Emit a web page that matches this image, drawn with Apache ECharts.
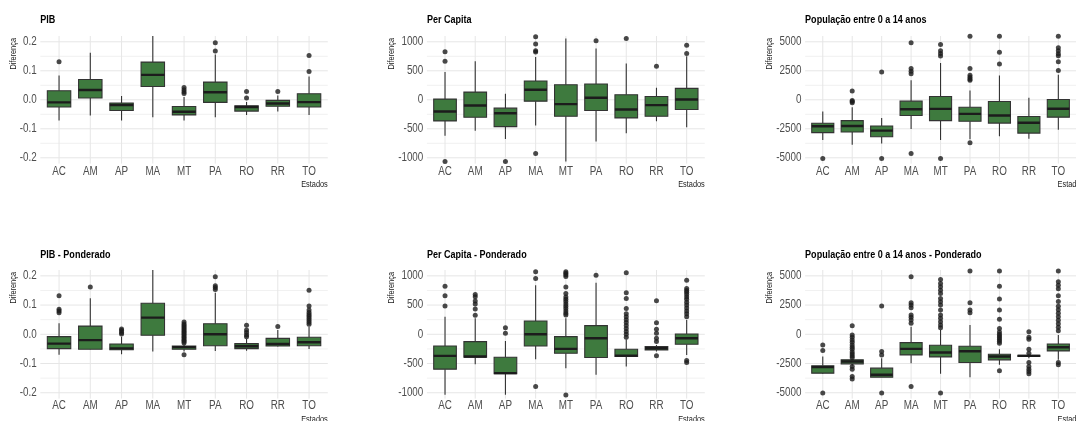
<!DOCTYPE html>
<html>
<head>
<meta charset="utf-8">
<title>Diferença por Estado</title>
<script src="https://cdn.jsdelivr.net/npm/echarts@6/dist/echarts.min.js"></script>
<style>
  html, body { margin: 0; padding: 0; background: #ffffff; }
  #chart { width: 1076px; height: 421px; }
</style>
</head>
<body>
<div id="chart"></div>
<script>
// Categories on the horizontal axis
const states = ['AC', 'AM', 'AP', 'MA', 'MT', 'PA', 'RO', 'RR', 'TO'];

// Each box: [lower whisker, Q1, median, Q3, upper whisker], one per state
const pibBoxes = [
  [-0.071, -0.025, -0.009, 0.031, 0.084],
  [-0.054, 0.006, 0.034, 0.070, 0.162],
  [-0.071, -0.037, -0.018, -0.011, 0.013],
  [-0.060, 0.046, 0.086, 0.130, 0.250],
  [-0.071, -0.052, -0.041, -0.023, 0.010],
  [-0.060, -0.009, 0.026, 0.061, 0.156],
  [-0.052, -0.039, -0.025, -0.021, -0.008],
  [-0.040, -0.022, -0.013, -0.002, 0.015],
  [-0.052, -0.025, -0.008, 0.021, 0.080]
];
const pibOutliers = [
  [0.131], [], [], [], [0.022, 0.028, 0.035, 0.042], [0.168, 0.197], [0.006, 0.029], [0.029], [0.098, 0.153]
];

const perCapitaBoxes = [
  [-618, -364, -202, 12, 480],
  [-532, -300, -98, 133, 665],
  [-676, -462, -231, -144, 104],
  [-445, -23, 173, 324, 740],
  [-1063, -283, -75, 260, 1058],
  [-717, -185, 35, 272, 884],
  [-578, -312, -168, 87, 624],
  [-370, -283, -92, 58, 208],
  [-474, -168, 6, 197, 751]
];
const perCapitaOutliers = [
  [665, 827, -1063], [], [-1063], [825, 845, 960, 1085, -925], [], [1017], [1058], [578], [798, 942]
];

const popBoxes = [
  [-3468, -2832, -2283, -2023, -1012],
  [-3873, -2774, -2254, -1792, -636],
  [-3757, -3179, -2659, -2254, -1561],
  [-2514, -1358, -809, -116, 1676],
  [-3468, -1792, -780, 289, 3179],
  [-3400, -1850, -1214, -636, 809],
  [-3153, -2010, -1349, -146, 2087],
  [-3350, -2869, -1976, -1435, 172],
  [-2577, -1495, -773, 26, 2150]
];
const popOutliers = [
  [-5050], [751, -58, -150, -260], [2399, -5050], [4913, 2688, 2457, 2254, -4624],
  [4769, 4219, 3988, 3786, -5050], [5480, 2688, 2110, 1950, 1800, 1676, -3700],
  [5480, 4089, 3092], [], [5480, 4493, 4235, 3977, 3805, 3290, 2517]
];

const pibWeightedBoxes = [
  [-0.070, -0.049, -0.032, -0.008, 0.0375],
  [-0.052, -0.051, -0.020, 0.028, 0.123],
  [-0.068, -0.053, -0.048, -0.033, -0.008],
  [-0.059, -0.003, 0.057, 0.106, 0.250],
  [-0.059, -0.051, -0.044, -0.040, -0.035],
  [-0.057, -0.039, 0.000, 0.036, 0.142],
  [-0.056, -0.049, -0.041, -0.032, -0.016],
  [-0.042, -0.040, -0.033, -0.014, 0.015],
  [-0.050, -0.039, -0.027, -0.010, 0.026]
];
const pibWeightedOutliers = [
  [0.074, 0.080, 0.086, 0.132],
  [0.162],
  [0.001, 0.006, 0.013, 0.018],
  [],
  [-0.030, -0.025, -0.020, -0.015, -0.010, -0.005, 0.000, 0.005, 0.010, 0.015, 0.020, 0.025, 0.030, 0.035, 0.042, -0.070],
  [0.153, 0.160, 0.166, 0.197],
  [-0.008, -0.002, 0.006, 0.015, 0.031],
  [0.027],
  [0.034, 0.041, 0.048, 0.055, 0.062, 0.068, 0.075, 0.083, 0.097, 0.151]
];

const perCapitaWeightedBoxes = [
  [-1034, -596, -369, -199, 301],
  [-511, -392, -381, -125, 273],
  [-1034, -676, -665, -392, -114],
  [-426, -199, 0, 227, 841],
  [-579, -324, -250, -40, 273],
  [-693, -398, -68, 148, 880],
  [-551, -381, -364, -256, -90],
  [-295, -267, -239, -210, -182],
  [-352, -170, -68, 6, 244]
];
const perCapitaWeightedOutliers = [
  [483, 659, 824],
  [324, 432, 517, 568, 642, 682],
  [17, 114],
  [954, 1068, -892],
  [330, 360, 400, 440, 480, 520, 560, 600, 640, 700, 810, 990, 1020, 1045, 1068, -1040],
  [1011],
  [-50, 0, 50, 100, 150, 200, 250, 300, 350, 443, 613, 710, 1051],
  [-369, -125, -68, 17, 85, 199, 574],
  [300, 350, 400, 450, 500, 550, 600, 640, 680, 720, 750, 784, 926, -449, -483]
];

const popWeightedBoxes = [
  [-3400, -3323, -2812, -2698, -1903],
  [-2698, -2528, -2329, -2187, -2130],
  [-3664, -3664, -3465, -2897, -2045],
  [-2471, -1761, -1250, -710, 653],
  [-3380, -1931, -1562, -937, 369],
  [-3664, -2414, -1448, -1022, 795],
  [-2613, -2187, -1903, -1704, -1278],
  [-2045, -1903, -1846, -1789, -1676],
  [-2187, -1420, -1108, -824, -57]
];
const popWeightedOutliers = [
  [-909, -1392, -5027],
  [738, -57, -256, -483, -682, -909, -1108, -1278, -1505, -1676, -1850, -2000, -2755, -2982, -3607, -3834],
  [2414, -1477, -1761, -5027],
  [937, 1221, 1448, 1647, 2272, 2499, 2698, 4913, -4459],
  [568, 795, 1079, 1363, 1647, 2073, 2499, 2783, 3067, 3493, 3777, 4061, 4345, 4686, -5027],
  [1846, 2073, 2698, 5424],
  [-770, -600, -450, -300, -150, 0, 200, 500, 1278, 2073, 3010, 4118, 5424, -3124],
  [227, -256, -426, -1278, -1619, -2414, -2755, -2982, -3181, -3380],
  [300, 600, 900, 1200, 1500, 1800, 2100, 2400, 2800, 3300, 3900, 4200, 4487, 5424, -2414, -2613]
];

// Tick labels and visible range of each value axis
const pibTicks = [-0.2, -0.1, 0, 0.1, 0.2];
const perCapitaTicks = [-1000, -500, 0, 500, 1000];
const popTicks = [-5000, -2500, 0, 2500, 5000];
const pibLimits = [-0.22, 0.22];
const perCapitaLimits = [-1100, 1100];
const popLimits = [-5500, 5500];

const panels = [
  { title: 'PIB', boxes: pibBoxes, outliers: pibOutliers, ticks: pibTicks, limits: pibLimits, digits: 1 },
  { title: 'Per Capita', boxes: perCapitaBoxes, outliers: perCapitaOutliers, ticks: perCapitaTicks, limits: perCapitaLimits, digits: 0 },
  { title: 'População entre 0 a 14 anos', boxes: popBoxes, outliers: popOutliers, ticks: popTicks, limits: popLimits, digits: 0 },
  { title: 'PIB - Ponderado', boxes: pibWeightedBoxes, outliers: pibWeightedOutliers, ticks: pibTicks, limits: pibLimits, digits: 1 },
  { title: 'Per Capita - Ponderado', boxes: perCapitaWeightedBoxes, outliers: perCapitaWeightedOutliers, ticks: perCapitaTicks, limits: perCapitaLimits, digits: 0 },
  { title: 'População entre 0 a 14 anos - Ponderado', boxes: popWeightedBoxes, outliers: popWeightedOutliers, ticks: popTicks, limits: popLimits, digits: 0 }
];

// Panel layout
const FONT = '"Liberation Sans", Arial, sans-serif';
const NARROW = 0.82;          // horizontal squeeze applied to all text
const COLS = [
  { left: 40.3, width: 287.5, nameOffset: 27 },
  { left: 426.9, width: 277.9, nameOffset: 35.2 },
  { left: 805.1, width: 279.1, nameOffset: 35.8 }
];
const ROWS = [
  { top: 36, height: 127.6, titleY: 20.2, labelOffset: 8.3 },
  { top: 270, height: 128.6, titleY: 254.5, labelOffset: 7.3 }
];
const BOX_WIDTH = 0.75;      // in category units
const BOX_FILL = '#3e7a3e';
const LINE_DARK = '#333333';

function renderGridLine(params, api) {
  const cs = params.coordSys;
  const vertical = api.value(0) === 1;
  const major = api.value(2) === 1;
  const style = { stroke: major ? '#e6e6e6' : '#f1f1f1', lineWidth: 1 };
  if (vertical) {
    const px = api.coord([api.value(1), 0])[0];
    return { type: 'line', shape: { x1: px, y1: cs.y, x2: px, y2: cs.y + cs.height }, style };
  }
  const py = api.coord([1, api.value(1)])[1];
  return { type: 'line', shape: { x1: cs.x, y1: py, x2: cs.x + cs.width, y2: py }, style };
}

function renderBox(params, api) {
  const x = api.value(0);
  const lo = api.coord([x, api.value(1)]);
  const q1 = api.coord([x, api.value(2)]);
  const md = api.coord([x, api.value(3)]);
  const q3 = api.coord([x, api.value(4)]);
  const hi = api.coord([x, api.value(5)]);
  const half = api.size([BOX_WIDTH, 0])[0] / 2;
  const whisker = { stroke: LINE_DARK, lineWidth: 1.1 };
  return {
    type: 'group',
    children: [
      { type: 'line', shape: { x1: lo[0], y1: lo[1], x2: q1[0], y2: q1[1] }, style: whisker },
      { type: 'line', shape: { x1: q3[0], y1: q3[1], x2: hi[0], y2: hi[1] }, style: whisker },
      { type: 'rect', shape: { x: q3[0] - half, y: q3[1], width: 2 * half, height: Math.max(q1[1] - q3[1], 0.5) },
        style: { fill: BOX_FILL, stroke: LINE_DARK, lineWidth: 1.1 } },
      { type: 'line', shape: { x1: md[0] - half, y1: md[1], x2: md[0] + half, y2: md[1] },
        style: { stroke: '#1c1c1c', lineWidth: 2.4 } }
    ]
  };
}

// Tick labels: kind 1 = state name under the panel, kind 0 = value at the left
function makeTickLabelRenderer(panel, row) {
  return function (params, api) {
    const cs = params.coordSys;
    const onX = api.value(0) === 1;
    const v = api.value(1);
    const base = { fontSize: 12, fontFamily: FONT, fill: '#4d4d4d', verticalAlign: 'middle' };
    if (onX) {
      const px = api.coord([v, panel.limits[0]])[0];
      return { type: 'text', x: px, y: cs.y + cs.height + row.labelOffset, scaleX: NARROW,
        style: Object.assign({ text: states[Math.round(v) - 1], align: 'center' }, base) };
    }
    const py = api.coord([1, v])[1];
    return { type: 'text', x: cs.x - 3.6, y: py, scaleX: NARROW,
      style: Object.assign({ text: v.toFixed(panel.digits), align: 'right' }, base) };
  };
}

const grids = [], xAxes = [], yAxes = [], series = [], graphics = [];
const categoryPositions = states.map((s, k) => k + 1);

panels.forEach((p, i) => {
  const col = COLS[i % 3];
  const row = ROWS[Math.floor(i / 3)];
  grids.push({ left: col.left, top: row.top, width: col.width, height: row.height });

  xAxes.push({
    gridIndex: i, type: 'value', min: 0.4, max: 9.6,
    axisLine: { show: false }, axisTick: { show: false }, splitLine: { show: false },
    axisLabel: { show: false }
  });
  yAxes.push({
    gridIndex: i, type: 'value', min: p.limits[0], max: p.limits[1],
    axisLine: { show: false }, axisTick: { show: false }, splitLine: { show: false },
    axisLabel: { show: false }
  });

  // major and minor horizontal lines, vertical lines at every state
  const step = p.ticks[1] - p.ticks[0];
  const minor = p.ticks.slice(0, -1).map(t => t + step / 2);
  const gridLineData = []
    .concat(p.ticks.map(v => [0, v, 1]))
    .concat(minor.map(v => [0, v, 0]))
    .concat(categoryPositions.map(v => [1, v, 1]));

  series.push({
    type: 'custom', xAxisIndex: i, yAxisIndex: i, z: 1, silent: true,
    renderItem: renderGridLine, data: gridLineData
  });

  series.push({
    type: 'custom', xAxisIndex: i, yAxisIndex: i, z: 1, silent: true,
    renderItem: makeTickLabelRenderer(p, row),
    data: p.ticks.map(v => [0, v]).concat(categoryPositions.map(v => [1, v]))
  });

  series.push({
    type: 'custom', xAxisIndex: i, yAxisIndex: i, z: 2, clip: true, silent: true,
    renderItem: renderBox,
    encode: { x: 0, y: [1, 2, 3, 4, 5] },
    data: p.boxes.map((b, k) => [k + 1].concat(b))
  });

  const outlierData = [];
  p.outliers.forEach((list, k) => list.forEach(v => outlierData.push([k + 1, v])));
  series.push({
    type: 'scatter', xAxisIndex: i, yAxisIndex: i, z: 3, clip: true, silent: true,
    symbol: 'circle', symbolSize: 5,
    itemStyle: { color: '#1c1c1c' },
    data: outlierData
  });

  graphics.push({
    type: 'text', x: col.left, y: row.titleY, scaleX: NARROW,
    style: { text: p.title, fontSize: 11, fontWeight: 'bold', fontFamily: FONT, fill: '#000', align: 'left', verticalAlign: 'middle' }
  });
  graphics.push({
    type: 'text', x: col.left - col.nameOffset, y: row.top + 2, rotation: Math.PI / 2, scaleX: NARROW,
    style: { text: 'Diferença', fontSize: 9, fontFamily: FONT, fill: '#1a1a1a', align: 'right', verticalAlign: 'middle' }
  });
  graphics.push({
    type: 'text', x: col.left + col.width, y: row.top + row.height + 21, scaleX: NARROW,
    style: { text: 'Estados', fontSize: 9, fontFamily: FONT, fill: '#1a1a1a', align: 'right', verticalAlign: 'middle' }
  });
});

const chart = echarts.init(document.getElementById('chart'), null, { renderer: 'canvas' });
chart.setOption({
  backgroundColor: '#ffffff',
  animation: false,
  grid: grids,
  xAxis: xAxes,
  yAxis: yAxes,
  series: series,
  graphic: graphics
});
</script>
</body>
</html>
